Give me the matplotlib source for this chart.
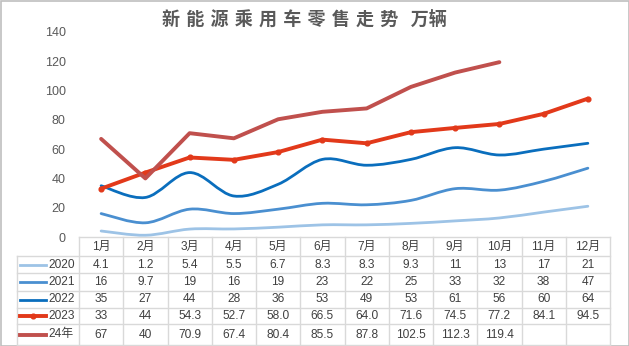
import numpy as np
import matplotlib
matplotlib.use('Agg')
import matplotlib.pyplot as plt
from matplotlib.path import Path
from matplotlib.patches import PathPatch, Rectangle
from matplotlib.lines import Line2D

plt.rcParams['font.family'] = ['Liberation Sans', 'Noto Sans CJK SC', 'DejaVu Sans']

title = '新 能 源 乘 用 车 零 售 走 势  万辆'
months = ['1月', '2月', '3月', '4月', '5月', '6月', '7月', '8月', '9月', '10月', '11月', '12月']
series_names = ['2020', '2021', '2022', '2023', '24年']
v2020 = [4.1, 1.2, 5.4, 5.5, 6.7, 8.3, 8.3, 9.3, 11, 13, 17, 21]
v2021 = [16, 9.7, 19, 16, 19, 23, 22, 25, 33, 32, 38, 47]
v2022 = [35, 27, 44, 28, 36, 53, 49, 53, 61, 56, 60, 64]
v2023 = [33, 44, 54.3, 52.7, 58.0, 66.5, 64.0, 71.6, 74.5, 77.2, 84.1, 94.5]
v2024 = [67, 40, 70.9, 67.4, 80.4, 85.5, 87.8, 102.5, 112.3, 119.4]
yticks = [0, 20, 40, 60, 80, 100, 120, 140]

series = [v2020, v2021, v2022, v2023, v2024]
colors = ['#9DC3E6', '#4A8FD0', '#0A6EBD', '#E2391A', '#C0504D']
widths = [2.0, 2.0, 2.0, 2.8, 2.8]
smooth = [True, True, True, False, False]


def fmt(name, i, v):
    if name == '2023' and i >= 2:
        return f'{v:.1f}'
    return f'{v:g}'


def smooth_path(x, y):
    pts = np.column_stack([x, y]).astype(float)
    n = len(pts)
    verts = [pts[0]]
    codes = [Path.MOVETO]
    for i in range(n - 1):
        p0 = pts[max(i - 1, 0)]
        p1 = pts[i]
        p2 = pts[i + 1]
        p3 = pts[min(i + 2, n - 1)]
        c1 = p1 + (p2 - p0) / 6.0
        c2 = p2 - (p3 - p1) / 6.0
        verts += [c1, c2, p2]
        codes += [Path.CURVE4] * 3
    return Path(verts, codes)


W, H = 629, 346
fig = plt.figure(figsize=(W / 100, H / 100), dpi=100)

# overlay axes in pixel coords for table/border
ov = fig.add_axes([0, 0, 1, 1])
ov.set_xlim(0, W)
ov.set_ylim(H, 0)
ov.axis('off')

ax_l, ax_r, ax_b, ax_t = 79, 610, 237, 32
ax = fig.add_axes([ax_l / W, 1 - ax_b / H, (ax_r - ax_l) / W, (ax_b - ax_t) / H])
ax.set_facecolor('none')
ax.set_xlim(-0.5, len(months) - 0.5)
ax.set_ylim(0, 140)
ax.set_yticks(yticks)
ax.set_xticks([])
for s in ax.spines.values():
    s.set_visible(False)
ax.tick_params(axis='y', length=0, pad=9.5, labelsize=9, labelcolor='#595959')

for name, vals, c, lw, sm in zip(series_names, series, colors, widths, smooth):
    x = np.arange(len(vals))
    if sm:
        ax.add_patch(PathPatch(smooth_path(x, vals), fill=False, edgecolor=c, lw=lw,
                               capstyle='round', joinstyle='round', zorder=2))
    else:
        mk = 'o' if name == '2023' else None
        ax.plot(x, vals, color=c, lw=lw, marker=mk, markersize=3.4,
                solid_capstyle='round', solid_joinstyle='round', zorder=3)

# title
ov.text(304, 20, title, ha='center', va='center', fontsize=13, fontweight='bold',
        color='#595959', family=['DejaVu Sans', 'Noto Sans CJK SC'])

# table
gc = '#D9D9D9'
tc = '#404040'
fs = 8.6
col_w = (ax_r - ax_l) / len(months)
row_lines = [256, 273, 291, 308, 324, 345]
row_centers = [264.5, 282, 299.5, 316, 334.5]
ov.plot([ax_l, ax_r], [237, 237], color=gc, lw=1)
for yl in row_lines:
    ov.plot([17, ax_r], [yl, yl], color=gc, lw=1)
ov.plot([17, 17], [256, 345], color=gc, lw=1)
for k in range(len(months) + 1):
    xk = ax_l + k * col_w
    ov.plot([xk, xk], [237, 345], color=gc, lw=1)
for k, m in enumerate(months):
    ov.text(ax_l + (k + 0.5) * col_w, 246.5, m, ha='center', va='center',
            fontsize=fs, color=tc)
for r, (name, vals, c, lw) in enumerate(zip(series_names, series, colors, widths)):
    yc = row_centers[r]
    if name == '2023':
        ov.add_line(Line2D([20, 33, 46], [yc, yc, yc], color=c, lw=lw,
                           marker='o', markersize=3.4, markevery=[1]))
    else:
        ov.add_line(Line2D([20, 46], [yc, yc], color=c, lw=lw))
    ov.text(48, yc, name, ha='left', va='center', fontsize=fs, color=tc)
    for i, v in enumerate(vals):
        ov.text(ax_l + (i + 0.5) * col_w, yc, fmt(name, i, v), ha='center', va='center',
                fontsize=fs, color=tc)

ov.add_patch(Rectangle((0.5, 0.5), W - 1, H - 1, fill=False, edgecolor='#BFBFBF', lw=1.2))

fig.savefig('out.png', dpi=100)
